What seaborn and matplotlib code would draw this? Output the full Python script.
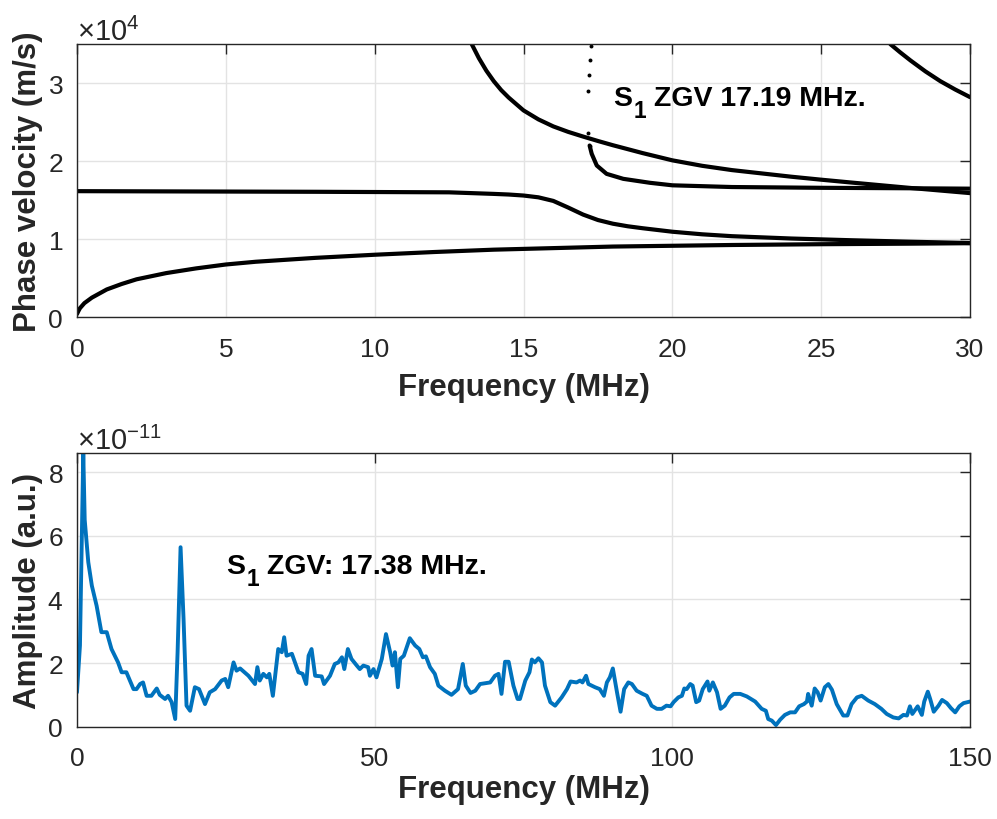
import numpy as np
import pandas as pd
import matplotlib
matplotlib.use("Agg")
import matplotlib.pyplot as plt
import seaborn as sns
from matplotlib.ticker import ScalarFormatter
from matplotlib.transforms import offset_copy

# ---------------- data: dispersion curves (top) ----------------
a0_f = [0.0, 0.05, 0.1, 0.25, 0.5, 1, 1.5, 2, 3, 4, 5, 6, 8, 10, 12, 14, 16, 18, 20, 22, 25, 28, 30]
a0_v = [400, 800, 1150, 1800, 2500, 3550, 4250, 4850, 5650, 6250, 6750, 7100, 7600, 8000, 8350, 8650,
        8850, 9050, 9150, 9250, 9350, 9420, 9480]

s0_f = [0, 2, 5, 8, 10, 12.5, 14, 14.5, 15, 15.5, 16, 16.5, 17, 17.5, 18, 18.5, 19, 20, 21, 22,
        24, 26, 28, 30]
s0_v = [16150, 16130, 16100, 16070, 16040, 16000, 15800, 15720, 15590, 15360, 14900, 14050, 13150,
        12450, 11980, 11650, 11400, 10950, 10620, 10380, 10080, 9860, 9670, 9500]

a1_f = [13.26, 13.5, 13.75, 14.0, 14.25, 14.5, 15.0, 15.5, 16.0, 16.5, 17.0, 17.5, 18.0, 19.0, 20.0,
        21.0, 22.0, 24.0, 25.0, 26.0, 28.0, 30.0]
a1_v = [35000, 33200, 31600, 30250, 29100, 28150, 26500, 25350, 24450, 23750, 23150, 22580, 22040,
        21030, 20100, 19400, 18850, 18000, 17620, 17260, 16560, 15900]

s1_f = [17.22, 17.29, 17.46, 17.79, 18.35, 19.25, 20, 22, 25, 28, 30]
s1_v = [22000, 20940, 19440, 18370, 17730, 17220, 16900, 16680, 16580, 16520, 16470]

s1b_f = [17.27, 17.23, 17.20, 17.17, 17.17, 17.22]
s1b_v = [34820, 32990, 31100, 28970, 23590, 22000]

a2_f = [27.32, 27.65, 28.0, 28.5, 29.0, 29.5, 30.0]
a2_v = [35000, 33950, 32900, 31500, 30250, 29180, 28200]

# ---------------- data: amplitude spectrum (bottom), units of 1e-11 ----------------
spec_f = [0, 0.5, 1.06, 1.3, 1.9, 2.5, 3.3, 4.1, 5.0, 5.8, 6.9, 7.5, 8.3, 9.5, 10.0, 10.6, 11.1, 11.7,
          12.5, 13.4, 13.9, 14.8, 15.3, 15.9, 16.5, 16.9, 17.4, 17.9, 18.4, 19.0, 19.8, 20.5, 21.5,
          22.3, 23.2, 24.3, 24.9, 25.4, 26.3, 26.8, 27.4, 28.8, 29.9, 30.3, 30.7, 31.3, 31.9, 32.3,
          32.9, 33.8, 34.4, 34.8, 35.2, 36.1, 37.2, 37.9, 38.5, 38.9, 39.4, 40.0, 41.1, 41.5, 42.5,
          43.3, 43.9, 44.5, 44.9, 45.5, 46.1, 47.0, 47.5, 48.1, 48.9, 49.2, 49.8, 50.3, 51.2, 51.9,
          52.6, 53.0, 53.4, 53.9, 54.3, 54.9, 55.9, 56.8, 57.5, 58.1, 58.6, 59.3, 60.1, 60.7, 61.8,
          62.9, 64.0, 64.8, 65.3, 66.1, 66.9, 67.7, 69.4, 70.2, 70.8, 71.3, 71.9, 72.5, 73.3, 74.0,
          74.4, 75.3, 76.0, 76.4, 76.9, 77.5, 78.1, 78.6, 79.5, 80.3, 81.4, 82.3, 82.9, 83.9, 84.5,
          84.9, 85.5, 85.9, 87.0, 87.8, 88.5, 89.0, 89.5, 90.0, 90.7, 91.3, 91.9, 92.6, 93.2, 94.0,
          95.0, 95.7, 96.5, 97.4, 98.2, 99.0, 99.7, 100.2, 101.0, 101.6, 102.0, 102.4, 103.0, 103.4,
          104.0, 104.5, 105.1, 105.9, 106.2, 106.8, 107.5, 108.1, 108.8, 109.6, 110.3, 111.4, 112.5,
          113.9, 115.0, 115.7, 116.1, 116.7, 117.4, 118.1, 118.9, 119.8, 120.6, 121.3, 122.1, 122.6,
          122.8, 123.4, 123.9, 124.4, 124.9, 125.6, 126.2, 126.8, 127.6, 128.7, 129.4, 130.1, 131.0,
          131.8, 132.9, 134.0, 135.1, 136.0, 137.1, 138.0, 138.8, 139.4, 139.9, 140.3, 141.2, 141.9,
          142.3, 142.9, 143.3, 143.9, 144.7, 145.3, 146.1, 146.8, 147.5, 148.2, 148.9, 150.0]
spec_a = [1.08, 2.55, 8.6, 6.5, 5.17, 4.43, 3.8, 2.97, 2.97, 2.44, 2.02, 1.71, 1.71, 1.18, 1.18, 1.34,
          1.39, 0.97, 0.97, 1.2, 1.0, 0.87, 0.97, 0.77, 0.24, 2.34, 5.64, 3.39, 0.66, 0.5, 1.24, 1.18,
          0.71, 1.08, 1.18, 1.45, 1.5, 1.24, 2.02, 1.76, 1.83, 1.6, 1.34, 1.87, 1.45, 1.66, 1.55, 1.66,
          0.97, 2.44, 2.34, 2.81, 2.23, 2.29, 1.71, 1.66, 1.34, 2.23, 2.44, 1.6, 1.58, 1.34, 1.6,
          1.97, 2.02, 2.18, 1.81, 2.44, 2.13, 1.92, 1.81, 1.92, 1.87, 1.6, 1.81, 1.55, 2.13, 2.91,
          2.34, 1.92, 2.34, 1.24, 2.13, 2.23, 2.78, 2.55, 2.44, 2.18, 2.21, 1.87, 1.66, 1.29, 1.13,
          1.0, 1.18, 1.97, 1.29, 1.06, 1.13, 1.34, 1.39, 1.6, 1.66, 1.03, 2.04, 2.04, 1.29, 0.87,
          0.87, 1.45, 1.71, 2.11, 2.02, 2.15, 2.02, 1.29, 0.77, 0.66, 0.92, 1.18, 1.42, 1.39, 1.45,
          1.39, 1.6, 1.34, 1.24, 1.18, 0.97, 1.39, 1.55, 1.83, 1.08, 0.47, 1.18, 1.39, 1.34, 1.13,
          1.03, 0.97, 0.66, 0.56, 0.56, 0.66, 0.64, 0.77, 0.92, 0.97, 1.2, 1.18, 1.34, 1.29,
          0.77, 0.82, 1.18, 1.42, 1.13, 1.39, 1.08, 0.56, 0.66, 0.92, 1.03, 1.03, 0.95,
          0.79, 0.56, 0.5, 0.24, 0.19, 0.05, 0.22, 0.37, 0.45, 0.45, 0.64, 0.71, 0.79,
          1.03, 0.66, 1.2, 1.08, 0.82, 1.24, 1.34, 1.16, 0.71, 0.35, 0.35, 0.71, 0.92,
          0.97, 0.82, 0.71, 0.56, 0.4, 0.29, 0.26, 0.37, 0.35, 0.64, 0.4, 0.64, 0.37,
          0.79, 1.1, 0.87, 0.47, 0.66, 0.84, 0.74, 0.58, 0.45, 0.64, 0.74, 0.79]
amp_scale = 1e-11

top_text = ('S', '1', ' ZGV 17.19 MHz.')
bot_text = ('S', '1', ' ZGV: 17.38 MHz.')

# ---------------- styling ----------------
sns.set_style("white")
plt.rcParams['font.family'] = ['Liberation Sans', 'DejaVu Sans']
plt.rcParams['mathtext.fontset'] = 'custom'
plt.rcParams['mathtext.rm'] = 'Liberation Sans'
plt.rcParams['mathtext.bf'] = 'Liberation Sans:bold'
plt.rcParams['mathtext.it'] = 'Liberation Sans:italic'

axcol = '#262626'
gridcol = '#e3e3e3'
tick_fs = 19
lab_fs = 22.5
ann_fs = 20.5
DPI = 100

fig = plt.figure(figsize=(9.97, 8.2), dpi=DPI)
ax1 = fig.add_axes([0.0772, 0.612, 0.8958, 0.333])
ax2 = fig.add_axes([0.0772, 0.1126, 0.8958, 0.3337])


def style(ax):
    for s in ax.spines.values():
        s.set_color(axcol)
        s.set_linewidth(1.0)
    ax.tick_params(direction='in', length=7, width=1.0, colors=axcol, labelsize=tick_fs,
                   top=True, right=True, labelcolor=axcol)
    ax.tick_params(axis='x', pad=14)
    ax.tick_params(axis='y', pad=10)
    ax.grid(True, color=gridcol, lw=1.0)
    ax.set_axisbelow(True)
    off = ax.yaxis.get_offset_text()
    off.set_fontsize(21)
    off.set_color(axcol)


def sub_label(ax, x, y, parts):
    base, sub, rest = parts
    t1 = ax.text(x, y, base, fontsize=ann_fs, fontweight='bold', color='black', va='baseline')
    fig.canvas.draw()
    r = fig.canvas.get_renderer()
    w1 = t1.get_window_extent(r).width * 72.0 / DPI
    tr2 = offset_copy(ax.transData, fig=fig, x=w1 + 1.0, y=-9.0, units='points')
    t2 = ax.text(x, y, sub, fontsize=ann_fs * 0.8, fontweight='bold', color='black',
                 va='baseline', transform=tr2)
    fig.canvas.draw()
    w2 = t2.get_window_extent(r).width * 72.0 / DPI
    tr3 = offset_copy(ax.transData, fig=fig, x=w1 + 1.0 + w2, y=0, units='points')
    ax.text(x, y, rest, fontsize=ann_fs, fontweight='bold', color='black', va='baseline',
            transform=tr3)


# top plot
curves = [(a0_f, a0_v), (s0_f, s0_v), (a1_f, a1_v), (s1_f, s1_v), (a2_f, a2_v)]
for f, v in curves:
    df = pd.DataFrame({'f': f, 'v': v})
    sns.lineplot(data=df, x='f', y='v', ax=ax1, color='black', lw=3.0, sort=False,
                 estimator=None)
dfb = pd.DataFrame({'f': s1b_f, 'v': s1b_v})
sns.scatterplot(data=dfb, x='f', y='v', ax=ax1, color='black', s=8, linewidth=0)

ax1.set_xlim(0, 30)
ax1.set_ylim(0, 35000)
ax1.set_xticks([0, 5, 10, 15, 20, 25, 30])
ax1.set_yticks([0, 10000, 20000, 30000])
fmt1 = ScalarFormatter(useMathText=True)
fmt1.set_powerlimits((0, 0))
ax1.yaxis.set_major_formatter(fmt1)
style(ax1)
ax1.set_xlabel('Frequency (MHz)', fontsize=lab_fs, fontweight='bold', color=axcol, labelpad=8)
ax1.set_ylabel('Phase velocity (m/s)', fontsize=lab_fs, fontweight='bold', color=axcol, labelpad=3)

# bottom plot
dfs = pd.DataFrame({'f': spec_f, 'a': np.array(spec_a) * amp_scale})
sns.lineplot(data=dfs, x='f', y='a', ax=ax2, color='#0072BD', lw=2.8, sort=False, estimator=None)
ax2.set_xlim(0, 150)
ax2.set_ylim(0, max(spec_a) * amp_scale)
ax2.set_xticks([0, 50, 100, 150])
ax2.set_yticks(np.array([0, 2, 4, 6, 8]) * amp_scale)
fmt2 = ScalarFormatter(useMathText=True)
fmt2.set_powerlimits((0, 0))
ax2.yaxis.set_major_formatter(fmt2)
style(ax2)
ax2.set_xlabel('Frequency (MHz)', fontsize=lab_fs, fontweight='bold', color=axcol, labelpad=3)
ax2.set_ylabel('Amplitude (a.u.)', fontsize=lab_fs, fontweight='bold', color=axcol, labelpad=3)

sub_label(ax1, 18.0, 27200, top_text)
sub_label(ax2, 25.0, 4.83 * amp_scale, bot_text)

fig.savefig('out.png', dpi=DPI)
